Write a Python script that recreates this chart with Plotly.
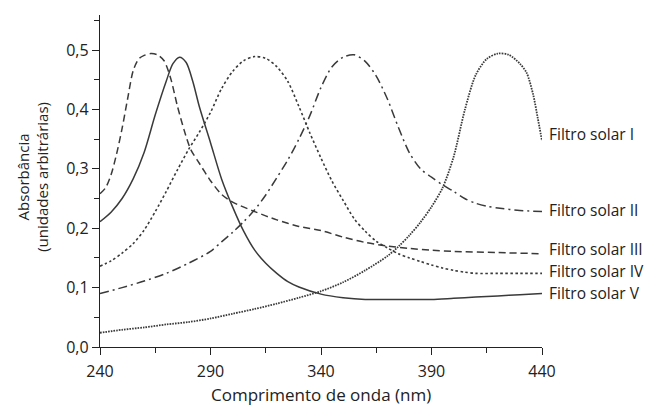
import plotly.graph_objects as go

# Absorbance (arbitrary units) against wavelength (nm) for five sunscreen filters.
wl_I = [240, 250, 260, 270, 280, 290, 300, 310, 320, 330, 340, 350, 360, 370, 375,
        380, 385, 390, 395, 400, 405, 410, 415, 420, 425, 430, 433, 436, 438, 440]
filtro_I = [0.024, 0.029, 0.033, 0.038, 0.042, 0.048, 0.056, 0.064, 0.073, 0.083,
            0.094, 0.109, 0.129, 0.153, 0.169, 0.188, 0.210, 0.236, 0.268, 0.320,
            0.398, 0.458, 0.485, 0.494, 0.492, 0.477, 0.462, 0.425, 0.387, 0.347]

wl_II = [240, 250, 260, 270, 280, 290, 295, 300, 305, 310, 315, 320, 325, 330, 335,
         340, 345, 350, 355, 360, 365, 370, 375, 380, 385, 390, 395, 400, 405, 410,
         415, 420, 430, 440]
filtro_II = [0.090, 0.100, 0.111, 0.124, 0.141, 0.161, 0.177, 0.193, 0.211, 0.231,
             0.256, 0.285, 0.315, 0.350, 0.390, 0.437, 0.472, 0.488, 0.492, 0.481,
             0.456, 0.418, 0.370, 0.327, 0.300, 0.286, 0.273, 0.262, 0.250, 0.242,
             0.237, 0.234, 0.230, 0.228]

wl_III = [240, 242.5, 245, 247.5, 250, 252.5, 255, 257.5, 260, 263, 266, 269, 272,
          275, 278, 281, 285, 290, 295, 300, 310, 320, 330, 340, 350, 360, 370, 380,
          390, 400, 420, 440]
filtro_III = [0.258, 0.268, 0.290, 0.325, 0.368, 0.418, 0.465, 0.485, 0.491, 0.494,
              0.492, 0.482, 0.452, 0.406, 0.366, 0.333, 0.309, 0.280, 0.257, 0.244,
              0.228, 0.214, 0.203, 0.196, 0.185, 0.176, 0.170, 0.166, 0.163, 0.161,
              0.159, 0.157]

wl_IV = [240, 245, 250, 255, 260, 265, 270, 275, 280, 285, 290, 295, 300, 305, 310,
         315, 320, 325, 330, 335, 340, 345, 350, 355, 360, 365, 370, 375, 380, 385,
         390, 395, 400, 405, 410, 420, 430, 440]
filtro_IV = [0.136, 0.145, 0.158, 0.174, 0.197, 0.228, 0.262, 0.298, 0.332, 0.362,
             0.395, 0.435, 0.464, 0.482, 0.489, 0.486, 0.472, 0.447, 0.405, 0.360,
             0.318, 0.279, 0.247, 0.216, 0.195, 0.178, 0.167, 0.157, 0.150, 0.144,
             0.138, 0.133, 0.129, 0.126, 0.124, 0.124, 0.124, 0.124]

wl_V = [240, 245, 250, 255, 260, 265, 270, 273, 276, 279, 282, 285, 290, 295, 300,
        305, 310, 315, 320, 325, 330, 340, 350, 360, 370, 380, 390, 400, 410, 420,
        430, 440]
filtro_V = [0.211, 0.227, 0.250, 0.283, 0.328, 0.391, 0.448, 0.477, 0.488, 0.479,
            0.447, 0.404, 0.344, 0.283, 0.236, 0.195, 0.163, 0.141, 0.124, 0.110,
            0.101, 0.089, 0.083, 0.080, 0.080, 0.080, 0.080, 0.082, 0.084, 0.086,
            0.088, 0.090]

series_names = ["Filtro solar I", "Filtro solar II", "Filtro solar III",
                "Filtro solar IV", "Filtro solar V"]
series_x = [wl_I, wl_II, wl_III, wl_IV, wl_V]
series_y = [filtro_I, filtro_II, filtro_III, filtro_IV, filtro_V]
# vertical position of each end label (absorbance units)
label_y = [0.358, 0.230, 0.165, 0.128, 0.091]

dash_styles = ["1.6px,1.1px", "9px,4px,2px,4px", "7px,4px", "2.5px,2.5px", "solid"]
line_widths = [1.8, 1.5, 1.5, 1.6, 1.5]

x_ticks = [240, 290, 340, 390, 440]
y_ticks = [0.0, 0.1, 0.2, 0.3, 0.4, 0.5]

line_color = "#3a3a3a"
font_family = "Open Sans, Noto Sans, sans-serif"

fig = go.Figure()
for name, xs, ys, ly, dash, lw in zip(series_names, series_x, series_y, label_y,
                                      dash_styles, line_widths):
    fig.add_trace(go.Scatter(
        x=xs, y=ys, mode="lines", name=name,
        line=dict(color=line_color, width=lw, dash=dash, shape="spline", smoothing=0.8),
        showlegend=False, cliponaxis=False,
    ))
    fig.add_annotation(
        x=xs[-1], y=ly, xref="x", yref="y",
        text=name, showarrow=False, xanchor="left", yanchor="middle",
        xshift=5, font=dict(size=15.5, color="#222", family=font_family),
    )

# axis titles
fig.add_annotation(
    x=0.5, y=-0.142, xref="paper", yref="paper", text="Comprimento de onda (nm)",
    showarrow=False, xanchor="center", yanchor="middle",
    font=dict(size=17, color="#222", family=font_family),
)
fig.add_annotation(
    x=-0.152, y=0.512, xref="paper", yref="paper",
    text="Absorbância<br>(unidades arbitrárias)", textangle=-90,
    showarrow=False, xanchor="center", yanchor="middle",
    font=dict(size=15, color="#222", family=font_family),
)

fig.update_layout(
    width=646, height=405,
    margin=dict(l=100, r=104, t=15, b=58, autoexpand=False),
    plot_bgcolor="white", paper_bgcolor="white",
    separators=",.",
    font=dict(family=font_family, size=15, color="#222"),
)

fig.update_xaxes(
    range=[240, 440], tickmode="array", tickvals=x_ticks, automargin=False,
    ticks="outside", ticklen=7, tickwidth=1.2, tickcolor="#222",
    minor=dict(tickmode="array", tickvals=[265, 315, 365, 415], ticks="outside",
               ticklen=5, tickwidth=1.2, tickcolor="#222"),
    showline=True, linecolor="#222", linewidth=1.3, showgrid=False, zeroline=False,
    tickfont=dict(size=16), ticklabelstandoff=3,
)
fig.update_yaxes(
    range=[0, 0.559], tickmode="array", tickvals=y_ticks, automargin=False,
    tickformat=".1f",
    ticks="outside", ticklen=7, tickwidth=1.2, tickcolor="#222",
    minor=dict(tickmode="array", tickvals=[0.05, 0.15, 0.25, 0.35, 0.45, 0.55],
               ticks="outside", ticklen=5, tickwidth=1.2, tickcolor="#222"),
    showline=True, linecolor="#222", linewidth=1.3, showgrid=False, zeroline=False,
    tickfont=dict(size=16),
)

fig.write_html("out.html")
